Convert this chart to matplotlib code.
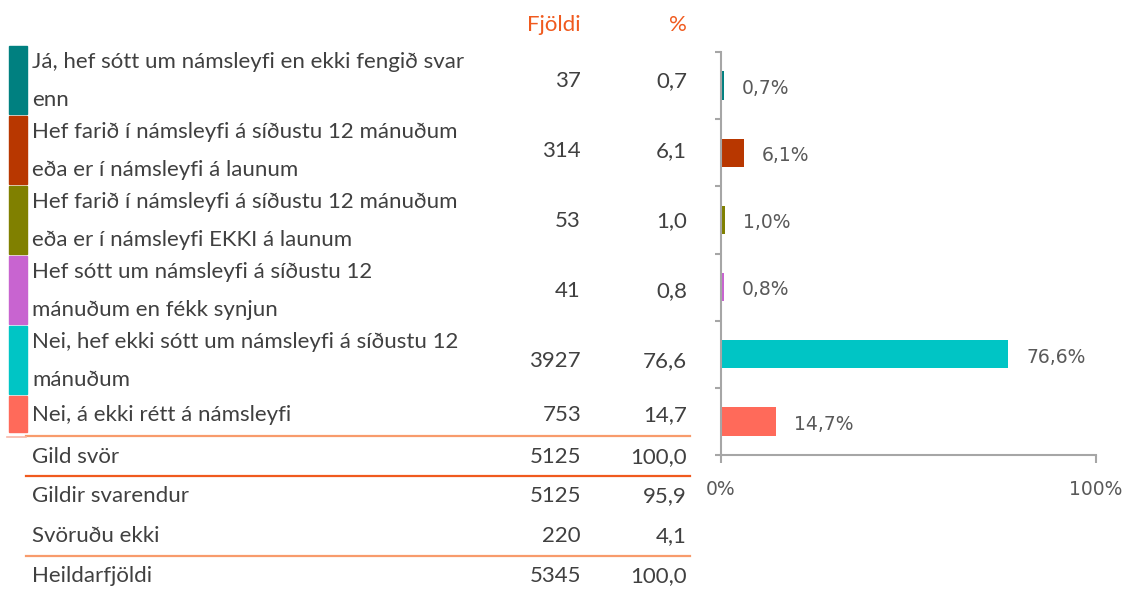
import matplotlib.pyplot as plt
from matplotlib.lines import Line2D
from matplotlib.patches import Rectangle

# data
answers = [
    ["Já, hef sótt um námsleyfi en ekki fengið svar", "enn"],
    ["Hef farið í námsleyfi á síðustu 12 mánuðum", "eða er í námsleyfi á launum"],
    ["Hef farið í námsleyfi á síðustu 12 mánuðum", "eða er í námsleyfi EKKI á launum"],
    ["Hef sótt um námsleyfi á síðustu 12", "mánuðum en fékk synjun"],
    ["Nei, hef ekki sótt um námsleyfi á síðustu 12", "mánuðum"],
    ["Nei, á ekki rétt á námsleyfi"],
]
counts = [37, 314, 53, 41, 3927, 753]
pcts = [0.7, 6.1, 1.0, 0.8, 76.6, 14.7]
colors = ["#008080", "#B83700", "#808000", "#C864D0", "#00C5C5", "#FF6A5A"]

summary_labels = ["Gild svör", "Gildir svarendur", "Svöruðu ekki", "Heildarfjöldi"]
summary_counts = [5125, 5125, 220, 5345]
summary_pcts = [100.0, 95.9, 4.1, 100.0]

col_headers = ["Fjöldi", "%"]

W, H = 1123, 592
TXT = "#404040"
ORANGE = "#F05A1E"
LIGHT = "#F89B6C"
TFONT = "Lato"
TSIZE = 16


def comma(v):
    return f"{v:.1f}".replace(".", ",")


def fx(x):
    return x / W


def fy(y):
    return 1 - y / H


def cell(x, y, s, ha, color=TXT):
    fig.text(fx(x), fy(y), s, ha=ha, va="center", color=color,
             fontsize=TSIZE, family=TFONT)


fig = plt.figure(figsize=(W / 100, H / 100), dpi=100)

# table on the left
cell(581, 25, col_headers[0], "right", ORANGE)
cell(687, 25, col_headers[1], "right", ORANGE)

top = 46
for lines, n, p, c in zip(answers, counts, pcts, colors):
    h = 32 * len(lines) + 6
    fig.patches.append(Rectangle((fx(9), fy(top + h - 2)), fx(18), h / H - 2 / H,
                                 transform=fig.transFigure, color=c))
    mid = top + h / 2
    for k, line in enumerate(lines):
        cell(32, mid + (k - (len(lines) - 1) / 2) * 38, line, "left")
    cell(581, mid, str(n), "right")
    cell(687, mid, comma(p), "right")
    top += h

rows_y = [457, 496, 536, 576]
for lab, n, p, ry in zip(summary_labels, summary_counts, summary_pcts, rows_y):
    cell(32, ry, lab, "left")
    cell(581, ry, str(n), "right")
    cell(687, ry, comma(p), "right")

for y, col in [(436, LIGHT), (476, ORANGE), (556, LIGHT)]:
    fig.lines.append(Line2D([fx(26), fx(690)], [fy(y), fy(y)],
                            transform=fig.transFigure, color=col, lw=1.6))
fig.lines.append(Line2D([fx(7), fx(26)], [fy(437), fy(437)],
                        transform=fig.transFigure, color="#F8B8A8", lw=1.2))

# bar chart on the right
ax = fig.add_axes([fx(721), 1 - 455 / H, (1096 - 721) / W, (455 - 52) / H])
ypos = list(range(len(pcts)))
ax.barh(ypos, pcts, height=0.42, color=colors)
for i, p in enumerate(pcts):
    ax.annotate(comma(p) + "%", xy=(p, i), xytext=(13, -2), textcoords="offset points",
                ha="left", va="center", fontsize=13.5, color="#595959")

ax.set_xlim(0, 100)
ax.set_ylim(len(pcts) - 0.5, -0.5)
ax.set_xticks([0, 100])
ax.set_xticklabels(["0%", "100%"])
ax.set_yticks([])
ax.set_yticks([i - 0.5 for i in range(len(pcts) + 1)], minor=True)
ax.tick_params(axis="y", which="minor", length=4, width=1.5, color="#A6A6A6")
ax.tick_params(axis="x", length=6, width=1.5, color="#A6A6A6", labelsize=13.5,
               labelcolor="#595959", pad=12)
for s in ["top", "right"]:
    ax.spines[s].set_visible(False)
for s in ["left", "bottom"]:
    ax.spines[s].set_color("#A6A6A6")
    ax.spines[s].set_linewidth(1.5)

fig.savefig("out.png", dpi=100)
